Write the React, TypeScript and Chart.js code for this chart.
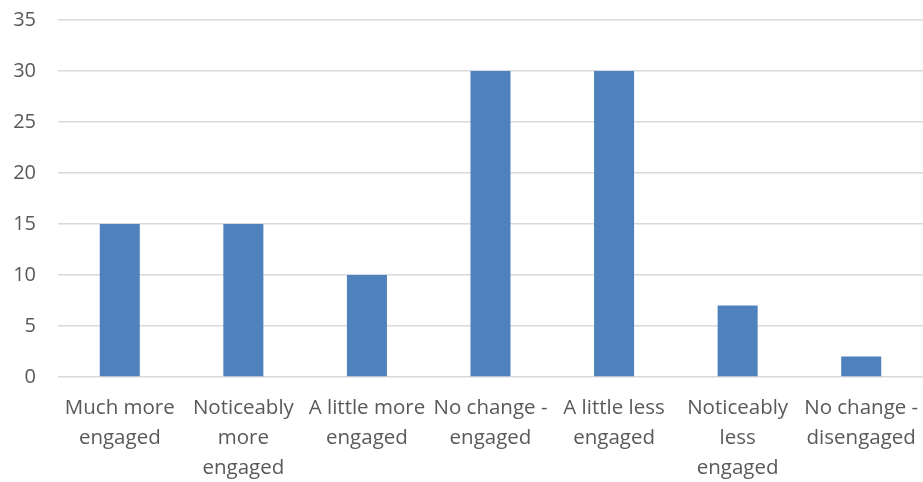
import React, { useEffect, useRef } from "react";
import { Chart, registerables } from "chart.js";

Chart.register(...registerables);

const categories: string[][] = [
  ["Much more", "engaged"],
  ["Noticeably", "more", "engaged"],
  ["A little more", "engaged"],
  ["No change -", "engaged"],
  ["A little less", "engaged"],
  ["Noticeably", "less", "engaged"],
  ["No change -", "disengaged"],
];
const values: number[] = [15, 15, 10, 30, 30, 7, 2];
const yMin = 0;
const yMax = 35;
const yStep = 5;

export default function App() {
  const ref = useRef<HTMLCanvasElement | null>(null);
  useEffect(() => {
    document.body.style.margin = "0";
    const ctx = ref.current!;
    const family = "'Open Sans', 'Liberation Sans', sans-serif";
    const chart = new Chart(ctx, {
      type: "bar",
      data: {
        labels: categories,
        datasets: [
          {
            data: values,
            backgroundColor: "#4F81BD",
            borderWidth: 0,
            barPercentage: 0.324,
            categoryPercentage: 1,
          },
        ],
      },
      options: {
        animation: false,
        responsive: false,
        maintainAspectRatio: false,
        layout: { padding: { top: 20, right: 0, left: 0, bottom: 0 } },
        plugins: { legend: { display: false }, tooltip: { enabled: false } },
        scales: {
          x: {
            grid: { display: false, drawTicks: false },
            border: { display: false },
            ticks: {
              color: "#595959",
              font: { family, size: 20.5, lineHeight: 1.46 },
              padding: 16,
              maxRotation: 0,
              autoSkip: false,
            },
            afterFit: (s: any) => {
              s.height = 105;
              s.paddingLeft = 0;
              s.paddingRight = 0;
            },
          },
          y: {
            min: yMin,
            max: yMax,
            ticks: { stepSize: yStep, color: "#595959", font: { family, size: 20 }, padding: 22 },
            grid: { color: "#d9d9d9", lineWidth: 1.5, drawTicks: false },
            border: { display: false },
            afterFit: (s: any) => {
              s.width = 58;
              s.paddingTop = 0;
              s.paddingBottom = 0;
            },
          },
        },
      },
    });
    return () => chart.destroy();
  }, []);
  return (
    <div style={{ width: 923, height: 482 }}>
      <canvas ref={ref} width={923} height={482} />
    </div>
  );
}
